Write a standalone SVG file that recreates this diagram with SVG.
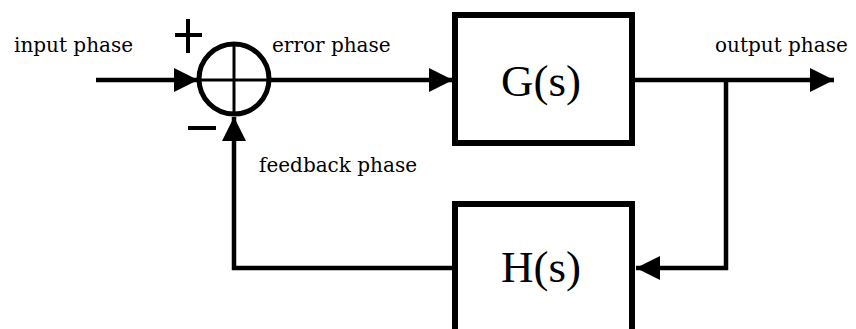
<svg xmlns="http://www.w3.org/2000/svg" width="856" height="329" viewBox="0 0 856 329">
  <style>
    .lbl { font-family: "DejaVu Serif", "Liberation Serif", serif; font-size: 20px; fill: #000; }
    .tf { font-family: "Liberation Serif", "DejaVu Serif", serif; font-size: 45px; fill: #000; text-anchor: middle; }
    .box { fill: #fff; stroke: #000; stroke-width: 6; }
    .wire { fill: none; stroke: #000; stroke-width: 4.5; stroke-linejoin: miter; }
    .sign { stroke: #000; stroke-width: 4; }
  </style>
  <defs>
    <marker id="arrow" markerUnits="userSpaceOnUse" markerWidth="26" markerHeight="26" refX="24" refY="12" orient="auto">
      <polygon points="0,0 24,12 0,24" fill="#000"/>
    </marker>
  </defs>
  <rect width="856" height="329" fill="#fff"/>

  <!-- connectors -->
  <g id="connectors">
    <line class="wire" x1="96" y1="80" x2="198" y2="80" marker-end="url(#arrow)"/>
    <line class="wire" x1="268" y1="80" x2="453" y2="80" marker-end="url(#arrow)"/>
    <line class="wire" x1="632" y1="80" x2="834" y2="80" marker-end="url(#arrow)"/>
    <polyline class="wire" points="726,80 726,268 636,268" marker-end="url(#arrow)"/>
    <polyline class="wire" points="455,268 234,268 234,117" marker-end="url(#arrow)"/>
  </g>

  <!-- summing junction -->
  <g id="sum">
    <circle cx="234" cy="79" r="35" fill="none" stroke="#000" stroke-width="5"/>
    <line x1="199" y1="80" x2="269" y2="80" stroke="#000" stroke-width="3"/>
    <line x1="234" y1="44" x2="234" y2="114" stroke="#000" stroke-width="3"/>
    <line class="sign" x1="175" y1="35" x2="202" y2="35"/>
    <line class="sign" x1="188" y1="19" x2="188" y2="53"/>
    <line class="sign" x1="188" y1="128" x2="216" y2="128"/>
  </g>

  <g id="G">
    <rect class="box" x="455" y="15" width="177" height="128"/>
    <text class="tf" x="541" y="96">G(s)</text>
  </g>

  <g id="H">
    <rect class="box" x="455" y="204" width="177" height="130"/>
    <text class="tf" x="541" y="282">H(s)</text>
  </g>

  <g id="labels">
    <text class="lbl" x="14" y="52">input phase</text>
    <text class="lbl" x="272" y="52">error phase</text>
    <text class="lbl" x="715" y="52">output phase</text>
    <text class="lbl" x="259" y="172">feedback phase</text>
  </g>
</svg>
